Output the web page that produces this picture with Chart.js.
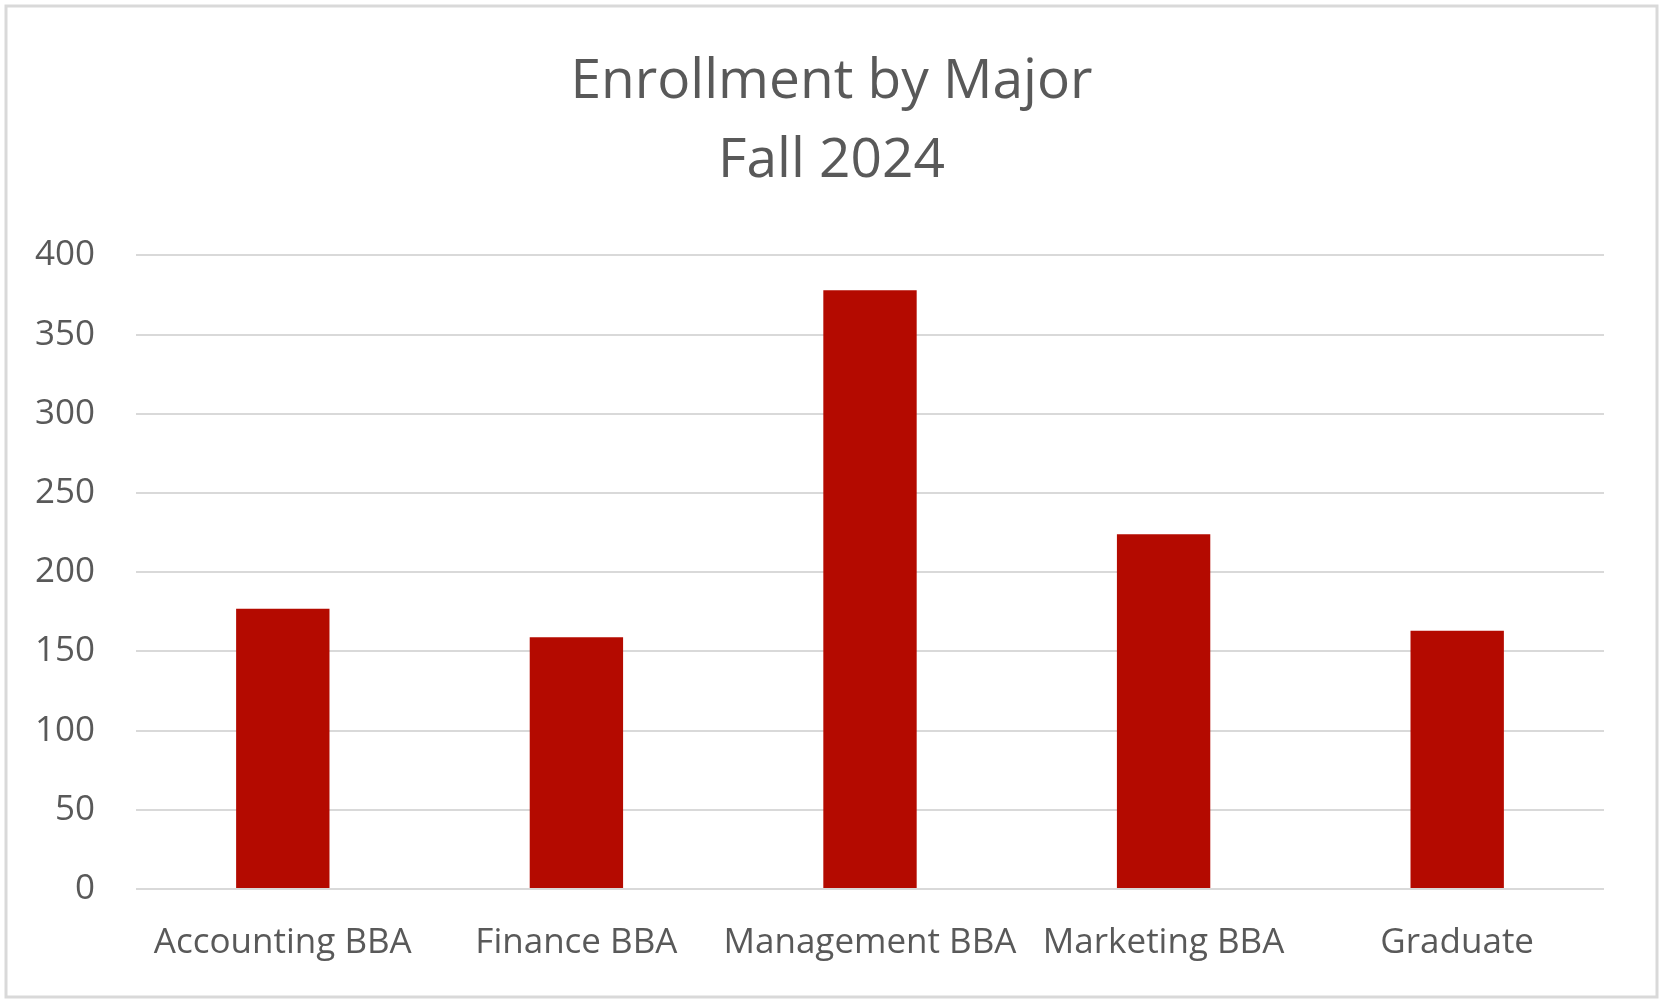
<!DOCTYPE html>
<html>
<head>
<meta charset="utf-8">
<script src="https://cdn.jsdelivr.net/npm/chart.js@4"></script>
<style>
  html, body { margin: 0; padding: 0; background: #fff; }
  #wrap { width: 1663px; height: 1003px; }
</style>
</head>
<body>
<div id="wrap"><canvas id="graficoMatriculas" width="1663" height="1003"></canvas></div>
<script>
const majors = ["Accounting BBA", "Finance BBA", "Management BBA", "Marketing BBA", "Graduate"];
const enrollment = [177, 159, 378, 224, 163];
const titleLines = ["Enrollment by Major", "Fall 2024"];

const fonte = "'Open Sans', sans-serif";
const cinza = "#595959";

// moldura cinza em volta do gráfico
const moldura = {
  id: "moldura",
  beforeDraw(chart) {
    const c = chart.ctx;
    c.save();
    c.fillStyle = "#fff";
    c.fillRect(0, 0, chart.width, chart.height);
    c.strokeStyle = "#d9d9d9";
    c.lineWidth = 3;
    c.strokeRect(6, 6, 1651, 991);
    c.restore();
  }
};

const ctx = document.getElementById("graficoMatriculas").getContext("2d");

new Chart(ctx, {
  type: "bar",
  data: {
    labels: majors,
    datasets: [{
      label: "Enrollment",
      data: enrollment,
      backgroundColor: "#b40a00",
      categoryPercentage: 1,
      barPercentage: 0.318
    }]
  },
  options: {
    responsive: false,
    animation: false,
    layout: { padding: 0 },
    plugins: {
      legend: { display: false },
      tooltip: { enabled: false },
      title: {
        display: true,
        text: titleLines,
        color: cinza,
        font: { family: fonte, size: 55, weight: "normal", lineHeight: 1.44 },
        padding: { top: 43, bottom: 54 }
      }
    },
    scales: {
      x: {
        grid: { display: false, drawTicks: false },
        border: { display: false },
        ticks: { color: cinza, font: { family: fonte, size: 35 }, padding: 33, maxRotation: 0, autoSkip: false },
        afterFit(scale) { scale.height = 114; }
      },
      y: {
        min: 0,
        max: 400,
        grid: { color: "#d9d9d9", lineWidth: 2, drawTicks: false },
        border: { display: false },
        ticks: { stepSize: 50, color: cinza, font: { family: fonte, size: 35 }, padding: 41 },
        afterFit(scale) { scale.width = 136; }
      },
      // eixo vazio à direita só para reservar a margem
      margemDireita: {
        axis: "y",
        position: "right",
        min: 0,
        max: 400,
        grid: { display: false, drawTicks: false },
        border: { display: false },
        ticks: { display: false },
        afterFit(scale) { scale.width = 59; }
      }
    }
  },
  plugins: [moldura]
});
</script>
</body>
</html>
